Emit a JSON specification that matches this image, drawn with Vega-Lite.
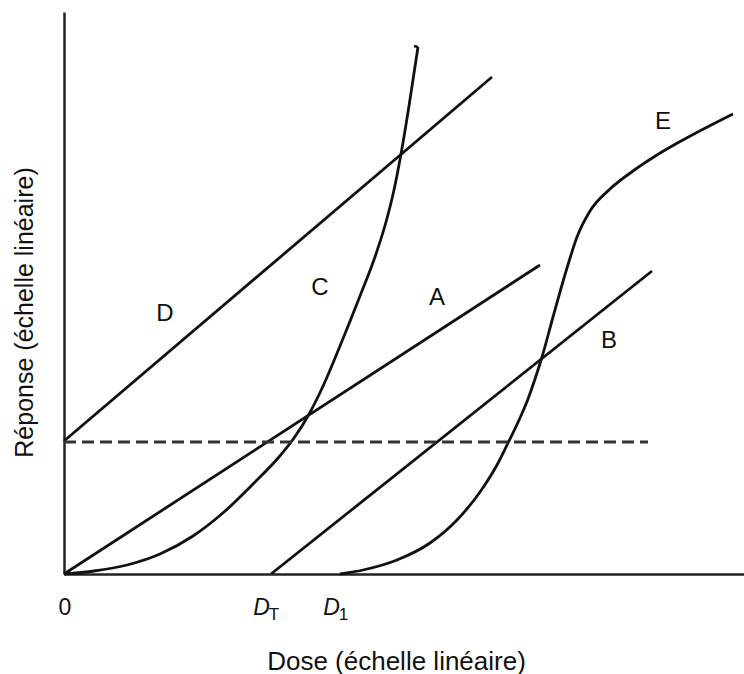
{
  "$schema": "https://vega.github.io/schema/vega-lite/v6.json",
  "autosize": {"type": "none"},
  "padding": {"left": 64, "top": 12, "right": 0, "bottom": 100},
  "width": 680,
  "height": 562,
  "background": "white",
  "config": {"view": {"stroke": null}, "font": "Liberation Sans"},
  "datasets": {
    "lines": [
      {"series": "D", "kind": "straight", "order": 0, "x": 0, "y": 133},
      {"series": "D", "kind": "straight", "order": 1, "x": 428, "y": 497},
      {"series": "A", "kind": "straight", "order": 0, "x": 0, "y": 0},
      {"series": "A", "kind": "straight", "order": 1, "x": 476, "y": 309},
      {"series": "B", "kind": "straight", "order": 0, "x": 207, "y": 0},
      {"series": "B", "kind": "straight", "order": 1, "x": 588, "y": 303},
      {"series": "C-crochet", "kind": "straight", "order": 0, "x": 354, "y": 527},
      {"series": "C-crochet", "kind": "straight", "order": 1, "x": 350, "y": 528},
      {"series": "C", "kind": "curve", "order": 0, "x": 0, "y": 0},
      {"series": "C", "kind": "curve", "order": 1, "x": 30, "y": 3},
      {"series": "C", "kind": "curve", "order": 2, "x": 63, "y": 9},
      {"series": "C", "kind": "curve", "order": 3, "x": 96, "y": 20},
      {"series": "C", "kind": "curve", "order": 4, "x": 129, "y": 38},
      {"series": "C", "kind": "curve", "order": 5, "x": 160, "y": 62},
      {"series": "C", "kind": "curve", "order": 6, "x": 190, "y": 91},
      {"series": "C", "kind": "curve", "order": 7, "x": 215, "y": 117},
      {"series": "C", "kind": "curve", "order": 8, "x": 230, "y": 136},
      {"series": "C", "kind": "curve", "order": 9, "x": 244, "y": 158},
      {"series": "C", "kind": "curve", "order": 10, "x": 260, "y": 190},
      {"series": "C", "kind": "curve", "order": 11, "x": 276, "y": 228},
      {"series": "C", "kind": "curve", "order": 12, "x": 296, "y": 278},
      {"series": "C", "kind": "curve", "order": 13, "x": 312, "y": 320},
      {"series": "C", "kind": "curve", "order": 14, "x": 322, "y": 352},
      {"series": "C", "kind": "curve", "order": 15, "x": 330, "y": 384},
      {"series": "C", "kind": "curve", "order": 16, "x": 337, "y": 420},
      {"series": "C", "kind": "curve", "order": 17, "x": 345, "y": 468},
      {"series": "C", "kind": "curve", "order": 18, "x": 354, "y": 527},
      {"series": "E", "kind": "curve", "order": 0, "x": 276, "y": 0},
      {"series": "E", "kind": "curve", "order": 1, "x": 299, "y": 4},
      {"series": "E", "kind": "curve", "order": 2, "x": 333, "y": 14},
      {"series": "E", "kind": "curve", "order": 3, "x": 366, "y": 31},
      {"series": "E", "kind": "curve", "order": 4, "x": 393, "y": 54},
      {"series": "E", "kind": "curve", "order": 5, "x": 416, "y": 82},
      {"series": "E", "kind": "curve", "order": 6, "x": 433, "y": 109},
      {"series": "E", "kind": "curve", "order": 7, "x": 444, "y": 131},
      {"series": "E", "kind": "curve", "order": 8, "x": 456, "y": 156},
      {"series": "E", "kind": "curve", "order": 9, "x": 464, "y": 175},
      {"series": "E", "kind": "curve", "order": 10, "x": 472, "y": 198},
      {"series": "E", "kind": "curve", "order": 11, "x": 478, "y": 217},
      {"series": "E", "kind": "curve", "order": 12, "x": 489, "y": 257},
      {"series": "E", "kind": "curve", "order": 13, "x": 503, "y": 306},
      {"series": "E", "kind": "curve", "order": 14, "x": 513, "y": 337},
      {"series": "E", "kind": "curve", "order": 15, "x": 526, "y": 363},
      {"series": "E", "kind": "curve", "order": 16, "x": 546, "y": 385},
      {"series": "E", "kind": "curve", "order": 17, "x": 569, "y": 403},
      {"series": "E", "kind": "curve", "order": 18, "x": 593, "y": 419},
      {"series": "E", "kind": "curve", "order": 19, "x": 619, "y": 434},
      {"series": "E", "kind": "curve", "order": 20, "x": 669, "y": 460},
      {"series": "seuil", "kind": "dashed", "order": 0, "x": 0, "y": 132},
      {"series": "seuil", "kind": "dashed", "order": 1, "x": 584, "y": 132}
    ],
    "labels": [
      {"label": "D", "x": 101, "y": 260},
      {"label": "C", "x": 256, "y": 286},
      {"label": "A", "x": 373, "y": 276},
      {"label": "B", "x": 545, "y": 233},
      {"label": "E", "x": 599, "y": 452}
    ],
    "zero": [
      {"label": "0", "x": 1, "y": -34}
    ],
    "doses": [
      {"label": "D", "x": 197.5, "y": -34},
      {"label": "D", "x": 267.5, "y": -34}
    ],
    "subs": [
      {"label": "T", "x": 210, "y": -41},
      {"label": "1", "x": 279.5, "y": -41}
    ]
  },
  "layer": [
    {
      "data": {"name": "lines"},
      "transform": [{"filter": "datum.kind === 'straight'"}],
      "mark": {"type": "line", "color": "#111", "strokeWidth": 2.8, "clip": false},
      "encoding": {
        "x": {"field": "x", "type": "quantitative", "scale": {"domain": [0, 680], "nice": false},
          "axis": {"title": "Dose (échelle linéaire)", "labels": false, "ticks": false, "grid": false,
            "domain": true, "domainColor": "#222", "domainWidth": 2.5,
            "titleFontSize": 26, "titleFontWeight": "normal", "titleColor": "#111",
            "titleX": 332, "titleY": 87, "titleBaseline": "middle", "titleAnchor": "middle"}},
        "y": {"field": "y", "type": "quantitative", "scale": {"domain": [0, 562], "nice": false},
          "axis": {"title": "Réponse (échelle linéaire)", "labels": false, "ticks": false, "grid": false,
            "domain": true, "domainColor": "#222", "domainWidth": 2.5,
            "titleFontSize": 25, "titleFontWeight": "normal", "titleColor": "#111",
            "titleX": -40, "titleY": 300, "titleBaseline": "middle", "titleAngle": -90, "titleAnchor": "middle"}},
        "detail": {"field": "series"},
        "order": {"field": "order", "type": "quantitative"}
      }
    },
    {
      "data": {"name": "lines"},
      "transform": [{"filter": "datum.kind === 'curve'"}],
      "mark": {"type": "line", "color": "#111", "strokeWidth": 2.8, "interpolate": "monotone", "clip": false},
      "encoding": {
        "x": {"field": "x", "type": "quantitative"},
        "y": {"field": "y", "type": "quantitative"},
        "detail": {"field": "series"},
        "order": {"field": "order", "type": "quantitative"}
      }
    },
    {
      "data": {"name": "lines"},
      "transform": [{"filter": "datum.kind === 'dashed'"}],
      "mark": {"type": "line", "color": "#333", "strokeWidth": 3, "strokeDash": [12, 6]},
      "encoding": {
        "x": {"field": "x", "type": "quantitative"},
        "y": {"field": "y", "type": "quantitative"},
        "order": {"field": "order", "type": "quantitative"}
      }
    },
    {
      "mark": {"type": "rule", "color": "#222", "strokeWidth": 2.5},
      "encoding": {"y": {"datum": 562}}
    },
    {
      "data": {"name": "labels"},
      "mark": {"type": "text", "fontSize": 24, "color": "#111", "baseline": "middle", "align": "center"},
      "encoding": {
        "x": {"field": "x", "type": "quantitative"},
        "y": {"field": "y", "type": "quantitative"},
        "text": {"field": "label"}
      }
    },
    {
      "data": {"name": "zero"},
      "mark": {"type": "text", "fontSize": 23, "color": "#111", "baseline": "middle", "align": "center"},
      "encoding": {
        "x": {"field": "x", "type": "quantitative"},
        "y": {"field": "y", "type": "quantitative"},
        "text": {"field": "label"}
      }
    },
    {
      "data": {"name": "doses"},
      "mark": {"type": "text", "fontSize": 23, "fontStyle": "italic", "color": "#111", "baseline": "middle", "align": "center"},
      "encoding": {
        "x": {"field": "x", "type": "quantitative"},
        "y": {"field": "y", "type": "quantitative"},
        "text": {"field": "label"}
      }
    },
    {
      "data": {"name": "subs"},
      "mark": {"type": "text", "fontSize": 17, "color": "#111", "baseline": "middle", "align": "center"},
      "encoding": {
        "x": {"field": "x", "type": "quantitative"},
        "y": {"field": "y", "type": "quantitative"},
        "text": {"field": "label"}
      }
    }
  ]
}
